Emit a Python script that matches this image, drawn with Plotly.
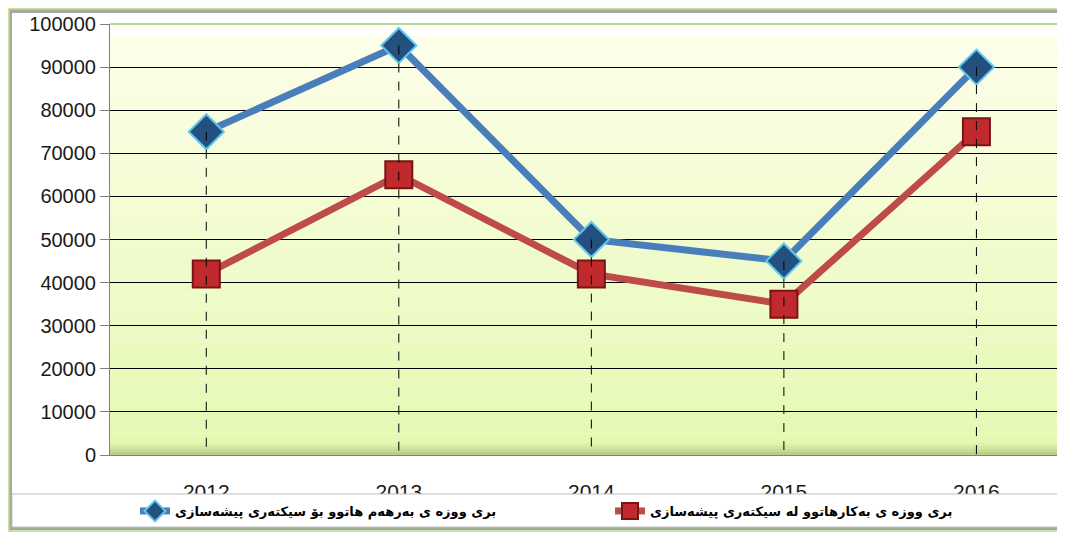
import plotly.graph_objects as go

years = ["2012", "2013", "2014", "2015", "2016"]
produced = [75000, 95000, 50000, 45000, 90000]
consumed = [42000, 65000, 42000, 35000, 75000]
name_produced = "بری ووزە ی بەرهەم هاتوو بۆ سیکتەری پیشەسازی"
name_consumed = "بری ووزە ی بەکارهاتوو لە سیکتەری پیشەسازی"
y_ticks = list(range(0, 100001, 10000))

# the page body adds an 8px offset, so the figure is a bit smaller than the window
OFF = 8
W, H = 1065 - OFF, 534 - OFF
L, R, T, B = 110 - OFF, 0, 24 - OFF, 534 - 455


def px_x(p):
    return (p - OFF - L) / (W - L - R)


def px_y(p):
    return (H - B - (p - OFF)) / (H - T - B)


fig = go.Figure()

fig.add_trace(go.Scatter(
    x=years, y=produced, name=name_produced, mode="lines+markers",
    legend="legend",
    line=dict(color="#4a7ebb", width=7),
    marker=dict(symbol="diamond", size=27, color="#24507e",
                line=dict(color="#5cc8ee", width=2)),
))
fig.add_trace(go.Scatter(
    x=years, y=consumed, name=name_consumed, mode="lines+markers",
    legend="legend2",
    line=dict(color="#be4b48", width=7),
    marker=dict(symbol="square", size=27, color="#c02a2c",
                line=dict(color="#7a1414", width=2)),
))

# drop lines from the highest point to the axis (drawn over the markers)
drop_x, drop_y = [], []
for yr, a, b in zip(years, produced, consumed):
    drop_x += [yr, yr, None]
    drop_y += [max(a, b), 0, None]
fig.add_trace(go.Scatter(x=drop_x, y=drop_y, mode="lines", showlegend=False,
                         hoverinfo="skip",
                         line=dict(color="black", width=1, dash="dash")))

shapes = []
# plot-area gradient: light cream at the top to light green at the bottom
top_c = (254, 254, 234)
bot_c = (228, 249, 178)
n = 40
for i in range(n):
    t = i / (n - 1)
    c = tuple(round(top_c[k] + (bot_c[k] - top_c[k]) * t) for k in range(3))
    shapes.append(dict(type="rect", xref="paper", yref="paper", layer="below",
                       x0=0, x1=1, y0=1 - (i + 1) / n, y1=1 - i / n,
                       line=dict(width=0), fillcolor="rgb(%d,%d,%d)" % c))
# bevel at the bottom of the plot area
bevel = ["#dcf3ab", "#d2eaa0", "#c6dd95", "#b9cf8a"]
for i, col in enumerate(bevel):
    shapes.append(dict(type="rect", xref="paper", yref="paper", layer="below",
                       x0=0, x1=1, y0=px_y(455 - 3 * (3 - i)), y1=px_y(452 - 3 * (3 - i)),
                       line=dict(width=0), fillcolor=col))
# white bevel band at top of plot
shapes.append(dict(type="rect", xref="paper", yref="paper", layer="below",
                   x0=0, x1=1, y0=px_y(36), y1=1,
                   line=dict(width=0), fillcolor="white"))
shapes.append(dict(type="line", xref="paper", yref="paper", layer="below",
                   x0=0, x1=1, y0=1, y1=1, line=dict(color="#b8d98c", width=2)))
# outer frame
shapes.append(dict(type="rect", xref="paper", yref="paper", layer="below",
                   x0=px_x(10), x1=px_x(1062), y0=px_y(528), y1=px_y(11),
                   line=dict(color="#a6a6a6", width=4)))
shapes.append(dict(type="rect", xref="paper", yref="paper", layer="below",
                   x0=px_x(8.5), x1=px_x(1066), y0=px_y(531), y1=px_y(8.5),
                   line=dict(color="#c6e59a", width=2)))
# legend box
shapes.append(dict(type="rect", xref="paper", yref="paper", layer="above",
                   x0=px_x(12), x1=px_x(1064), y0=px_y(527), y1=px_y(494),
                   line=dict(color="#bfbfbf", width=1), fillcolor="white"))

legend_font = dict(family="DejaVu Sans", size=13, color="black", weight="bold")
legend_y = (H - (511 - OFF)) / H

fig.update_layout(
    width=W, height=H,
    margin=dict(l=L, r=R, t=T, b=B, autoexpand=False),
    paper_bgcolor="white",
    plot_bgcolor="rgba(0,0,0,0)",
    shapes=shapes,
    font=dict(family="Liberation Sans, Arial, sans-serif", size=16, color="#1a1a1a"),
    showlegend=True,
    legend=dict(orientation="h", xref="container", yref="container",
                x=(135 - OFF) / W, xanchor="left", y=legend_y, yanchor="middle",
                bgcolor="rgba(0,0,0,0)", font=legend_font, itemsizing="trace"),
    legend2=dict(orientation="h", xref="container", yref="container",
                 x=(610 - OFF) / W, xanchor="left", y=legend_y, yanchor="middle",
                 bgcolor="rgba(0,0,0,0)", font=legend_font, itemsizing="trace"),
)
fig.update_xaxes(
    type="category", range=[-0.5, 4.46], automargin=False,
    showgrid=False, showline=True, linecolor="#808080", linewidth=1,
    ticks="", ticklabelstandoff=18,
    tickfont=dict(size=21, color="#1a1a1a"),
)
fig.update_yaxes(
    range=[0, 100000], tickvals=y_ticks, ticktext=[str(v) for v in y_ticks],
    automargin=False,
    showgrid=True, gridcolor="black", gridwidth=1,
    showline=True, linecolor="#808080", linewidth=1,
    ticks="outside", ticklen=9, tickcolor="#808080",
    tickfont=dict(size=20, color="#1a1a1a"),
    zeroline=False,
)

fig.write_html("out.html")
